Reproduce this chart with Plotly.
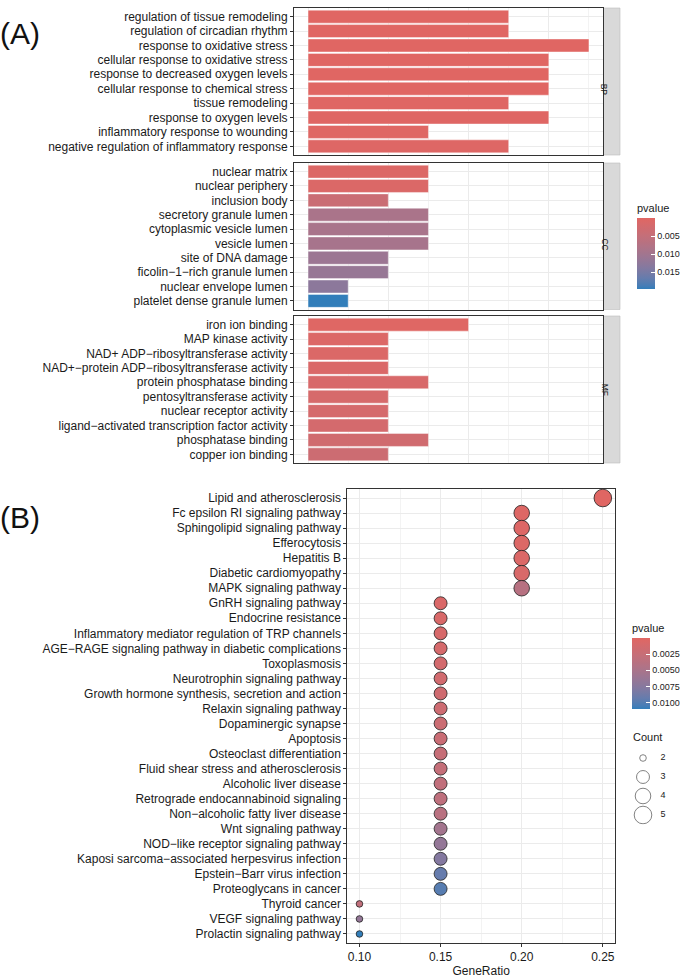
import plotly.graph_objects as go

# ---------------- data ----------------
bp_terms = ["regulation of tissue remodeling", "regulation of circadian rhythm",
            "response to oxidative stress", "cellular response to oxidative stress",
            "response to decreased oxygen levels", "cellular response to chemical stress",
            "tissue remodeling", "response to oxygen levels",
            "inflammatory response to wounding", "negative regulation of inflammatory response"]
bp_count = [5, 5, 7, 6, 6, 6, 5, 6, 3, 5]
bp_p = [0.00002, 0.00003, 0.00004, 0.00005, 0.00006, 0.0001, 0.0002, 0.0002, 0.0003, 0.0004]

cc_terms = ["nuclear matrix", "nuclear periphery", "inclusion body", "secretory granule lumen",
            "cytoplasmic vesicle lumen", "vesicle lumen", "site of DNA damage",
            "ficolin−1−rich granule lumen", "nuclear envelope lumen", "platelet dense granule lumen"]
cc_count = [3, 3, 2, 3, 3, 3, 2, 2, 1, 1]
cc_p = [0.0008, 0.001, 0.004, 0.0088, 0.009, 0.0092, 0.0108, 0.0114, 0.0128, 0.0196]

mf_terms = ["iron ion binding", "MAP kinase activity", "NAD+ ADP−ribosyltransferase activity",
            "NAD+−protein ADP−ribosyltransferase activity", "protein phosphatase binding",
            "pentosyltransferase activity", "nuclear receptor activity",
            "ligand−activated transcription factor activity", "phosphatase binding",
            "copper ion binding"]
mf_count = [4, 2, 2, 2, 3, 2, 2, 2, 3, 2]
mf_p = [0.0003, 0.0009, 0.001, 0.0011, 0.0015, 0.0018, 0.002, 0.0022, 0.0028, 0.0035]

kegg_terms = ["Lipid and atherosclerosis", "Fc epsilon RI signaling pathway",
              "Sphingolipid signaling pathway", "Efferocytosis", "Hepatitis B",
              "Diabetic cardiomyopathy", "MAPK signaling pathway", "GnRH signaling pathway",
              "Endocrine resistance", "Inflammatory mediator regulation of TRP channels",
              "AGE−RAGE signaling pathway in diabetic complications", "Toxoplasmosis",
              "Neurotrophin signaling pathway", "Growth hormone synthesis, secretion and action",
              "Relaxin signaling pathway", "Dopaminergic synapse", "Apoptosis",
              "Osteoclast differentiation", "Fluid shear stress and atherosclerosis",
              "Alcoholic liver disease", "Retrograde endocannabinoid signaling",
              "Non−alcoholic fatty liver disease", "Wnt signaling pathway",
              "NOD−like receptor signaling pathway",
              "Kaposi sarcoma−associated herpesvirus infection", "Epstein−Barr virus infection",
              "Proteoglycans in cancer", "Thyroid cancer", "VEGF signaling pathway",
              "Prolactin signaling pathway"]
kegg_ratio = [0.25, 0.20, 0.20, 0.20, 0.20, 0.20, 0.20,
              0.15, 0.15, 0.15, 0.15, 0.15, 0.15, 0.15, 0.15, 0.15, 0.15,
              0.15, 0.15, 0.15, 0.15, 0.15, 0.15, 0.15, 0.15, 0.15, 0.15,
              0.10, 0.10, 0.10]
kegg_count = [5, 4, 4, 4, 4, 4, 4,
              3, 3, 3, 3, 3, 3, 3, 3, 3, 3,
              3, 3, 3, 3, 3, 3, 3, 3, 3, 3,
              2, 2, 2]
kegg_p = [0.00002, 0.0003, 0.0004, 0.0005, 0.0006, 0.0008, 0.0039, 0.0007, 0.0008, 0.0009,
          0.0011, 0.0013, 0.0015, 0.0017, 0.0019, 0.0021, 0.0023, 0.0026, 0.0028, 0.0030,
          0.0033, 0.0037, 0.0055, 0.0066, 0.0077, 0.0093, 0.0099, 0.0030, 0.0066, 0.0110]

legend_counts = [2, 3, 4, 5]
cb_a_ticks = [0.005, 0.010, 0.015]
cb_a_text = ["0.005", "0.010", "0.015"]
cb_b_ticks = [0.0025, 0.0050, 0.0075, 0.0100]
cb_b_text = ["0.0025", "0.0050", "0.0075", "0.0100"]

# ---------------- colour helpers (Lab interpolation like ggplot) ----------------
LOW, HIGH = "#e06663", "#327eba"


def _lin(c):
    c = c / 255.0
    return c / 12.92 if c <= 0.04045 else ((c + 0.055) / 1.055) ** 2.4


def _gam(c):
    c = 12.92 * c if c <= 0.0031308 else 1.055 * c ** (1 / 2.4) - 0.055
    return max(0, min(255, round(c * 255)))


def hex2lab(h):
    r, g, b = [_lin(int(h[i:i + 2], 16)) for i in (1, 3, 5)]
    X = (0.4124 * r + 0.3576 * g + 0.1805 * b) / 0.95047
    Y = (0.2126 * r + 0.7152 * g + 0.0722 * b) / 1.0
    Z = (0.0193 * r + 0.1192 * g + 0.9505 * b) / 1.08883
    f = lambda t: t ** (1 / 3) if t > 0.008856 else 7.787 * t + 16 / 116
    fx, fy, fz = f(X), f(Y), f(Z)
    return (116 * fy - 16, 500 * (fx - fy), 200 * (fy - fz))


def lab2hex(L, a, b):
    fy = (L + 16) / 116
    fx = fy + a / 500
    fz = fy - b / 200
    finv = lambda t: t ** 3 if t ** 3 > 0.008856 else (t - 16 / 116) / 7.787
    X, Y, Z = finv(fx) * 0.95047, finv(fy), finv(fz) * 1.08883
    r = 3.2406 * X - 1.5372 * Y - 0.4986 * Z
    g = -0.9689 * X + 1.8758 * Y + 0.0415 * Z
    bb = 0.0557 * X - 0.2040 * Y + 1.0570 * Z
    return "#%02x%02x%02x" % (_gam(r), _gam(g), _gam(bb))


l1, l2 = hex2lab(HIGH), hex2lab(LOW)
N = 20
colorscale = []
for i in range(N + 1):
    t = i / N
    colorscale.append([t, lab2hex(*[l1[k] + (l2[k] - l1[k]) * t for k in range(3)])])

W, H = 685.0, 978.0
px = lambda v: v / W
py = lambda v: 1 - v / H

FONT = "Liberation Sans, Arial, sans-serif"
TXT = "#1a1a1a"
GRID = "#ebebeb"
BORDER = "#333333"
LBL = 12

fig = go.Figure()

# ---------------- panel A (faceted bar chart) ----------------
facets = [("BP", bp_terms, bp_count, bp_p, 8, 155),
          ("CC", cc_terms, cc_count, cc_p, 163, 309.5),
          ("MF", mf_terms, mf_count, mf_p, 316, 463)]

layout = dict()
for i, (name, terms, counts, pv, top, bot) in enumerate(facets):
    k = i + 1
    xa = "x" if k == 1 else "x%d" % k
    ya = "y" if k == 1 else "y%d" % k
    fig.add_trace(go.Bar(
        x=counts, y=terms, orientation="h", width=0.9,
        marker=dict(color=[-v for v in pv], coloraxis="coloraxis",
                    line=dict(width=0.6, color="rgba(255,255,255,0.7)")),
        xaxis=xa, yaxis=ya, showlegend=False))
    xkey = "xaxis" if k == 1 else "xaxis%d" % k
    ykey = "yaxis" if k == 1 else "yaxis%d" % k
    layout[xkey] = dict(domain=[px(294), px(603)], anchor=ya, range=[-0.35, 7.35],
                        tick0=0, dtick=2, showticklabels=False, ticks="",
                        showgrid=True, gridcolor=GRID, gridwidth=1,
                        minor=dict(dtick=1, showgrid=True, gridcolor="#f3f3f3", gridwidth=0.6),
                        zeroline=False, showline=True, mirror=True,
                        linecolor=BORDER, linewidth=1)
    layout[ykey] = dict(domain=[py(bot), py(top)], anchor=xa, type="category",
                        categoryorder="array", categoryarray=terms,
                        range=[len(terms) - 1 + 0.6, -0.6],
                        showgrid=True, gridcolor=GRID, gridwidth=1,
                        ticks="outside", ticklen=3, tickcolor=BORDER, tickwidth=1,
                        tickfont=dict(family=FONT, size=LBL, color=TXT),
                        showline=True, mirror=True, linecolor=BORDER, linewidth=1,
                        zeroline=False, automargin=False)

shapes = []
annotations = []
for name, terms, counts, pv, top, bot in facets:
    shapes.append(dict(type="rect", xref="paper", yref="paper",
                       x0=px(603.5), x1=px(620), y0=py(bot), y1=py(top),
                       fillcolor="#d9d9d9", line=dict(width=0.6, color="#bdbdbd"),
                       layer="below"))
    annotations.append(dict(text=name, xref="paper", yref="paper",
                            x=px(611.8), y=py((top + bot) / 2), textangle=90,
                            showarrow=False, font=dict(family=FONT, size=8.5, color=TXT)))

# ---------------- panel B (dot plot) ----------------
def size_px(c, cmin=min(kegg_count), cmax=max(kegg_count)):
    return 2.2 * (3 + 5 * ((c - cmin) / (cmax - cmin)) ** 0.5)


fig.add_trace(go.Scatter(
    x=kegg_ratio, y=kegg_terms, mode="markers",
    marker=dict(size=[size_px(c) for c in kegg_count],
                color=[-v for v in kegg_p], coloraxis="coloraxis2",
                line=dict(width=0.8, color="#222222"), opacity=1),
    xaxis="x4", yaxis="y4", showlegend=False))

layout["xaxis4"] = dict(domain=[px(347.3), px(615)], anchor="y4",
                        range=[0.0925, 0.2575], tick0=0.10, dtick=0.05,
                        tickformat=".2f",
                        showgrid=True, gridcolor=GRID, gridwidth=1,
                        minor=dict(dtick=0.025, showgrid=True, gridcolor="#f3f3f3", gridwidth=0.6),
                        ticks="outside", ticklen=3, tickcolor=BORDER,
                        tickfont=dict(family=FONT, size=LBL, color=TXT),
                        title=dict(text="GeneRatio", standoff=0,
                                   font=dict(family=FONT, size=LBL, color=TXT)),
                        showline=True, mirror=True, linecolor=BORDER, linewidth=1,
                        zeroline=False, automargin=False)
layout["yaxis4"] = dict(domain=[py(943), py(489)], anchor="x4", type="category",
                        categoryorder="array", categoryarray=kegg_terms,
                        range=[len(kegg_terms) - 1 + 0.6, -0.6],
                        showgrid=True, gridcolor=GRID, gridwidth=1,
                        ticks="outside", ticklen=3, tickcolor=BORDER,
                        tickfont=dict(family=FONT, size=LBL, color=TXT),
                        showline=True, mirror=True, linecolor=BORDER, linewidth=1,
                        zeroline=False, automargin=False)

# ---------------- Count size legend (own small axes) ----------------
fig.add_trace(go.Scatter(
    x=[0] * len(legend_counts), y=legend_counts, mode="markers",
    marker=dict(size=[size_px(c) for c in legend_counts], color="white",
                line=dict(width=0.8, color="#222222")),
    xaxis="x5", yaxis="y5", showlegend=False, hoverinfo="skip"))
fig.add_trace(go.Scatter(
    x=[1] * len(legend_counts), y=legend_counts, mode="text",
    text=[str(c) for c in legend_counts], textposition="middle center",
    textfont=dict(family=FONT, size=9, color=TXT),
    xaxis="x5", yaxis="y5", showlegend=False, hoverinfo="skip"))
layout["xaxis5"] = dict(domain=[px(633), px(673)], anchor="y5", range=[-0.5, 1.5],
                        visible=False)
layout["yaxis5"] = dict(domain=[py(824.5), py(748.5)], anchor="x5", range=[5.5, 1.5],
                        visible=False)
annotations.append(dict(text="Count", xref="paper", yref="paper", x=px(631), y=py(737),
                        xanchor="left", yanchor="middle", showarrow=False,
                        font=dict(family=FONT, size=11, color=TXT)))

# panel tags
annotations.append(dict(text="(A)", xref="paper", yref="paper", x=px(-2), y=py(34),
                        xanchor="left", yanchor="middle", showarrow=False,
                        font=dict(family=FONT, size=30, color="#111111")))
annotations.append(dict(text="(B)", xref="paper", yref="paper", x=px(-2), y=py(517),
                        xanchor="left", yanchor="middle", showarrow=False,
                        font=dict(family=FONT, size=30, color="#111111")))

cb_common = dict(thickness=18, thicknessmode="pixels", len=88, lenmode="pixels",
                 xanchor="left", yanchor="middle", xpad=0, ypad=0, outlinewidth=0,
                 tickmode="array",
                 ticks="inside", ticklen=4, tickcolor="white", tickwidth=1,
                 tickfont=dict(family=FONT, size=9, color=TXT))

layout["coloraxis"] = dict(
    colorscale=colorscale,
    colorbar=dict(x=px(637), y=py(245), tickvals=[-v for v in cb_a_ticks], ticktext=cb_a_text,
                  title=dict(text="pvalue", side="top",
                             font=dict(family=FONT, size=11, color=TXT)),
                  **cb_common))
layout["coloraxis2"] = dict(
    colorscale=colorscale,
    colorbar=dict(x=px(632), y=py(665), tickvals=[-v for v in cb_b_ticks], ticktext=cb_b_text,
                  title=dict(text="pvalue", side="top",
                             font=dict(family=FONT, size=11, color=TXT)),
                  **cb_common))

fig.update_layout(
    width=685, height=978, margin=dict(l=0, r=0, t=0, b=0),
    paper_bgcolor="white", plot_bgcolor="white",
    shapes=shapes, annotations=annotations, bargap=0.1,
    font=dict(family=FONT, color=TXT), **layout)

fig.write_html("out.html", config={"displayModeBar": False},
               post_script="document.body.style.margin='0';document.body.style.overflow='hidden';")
